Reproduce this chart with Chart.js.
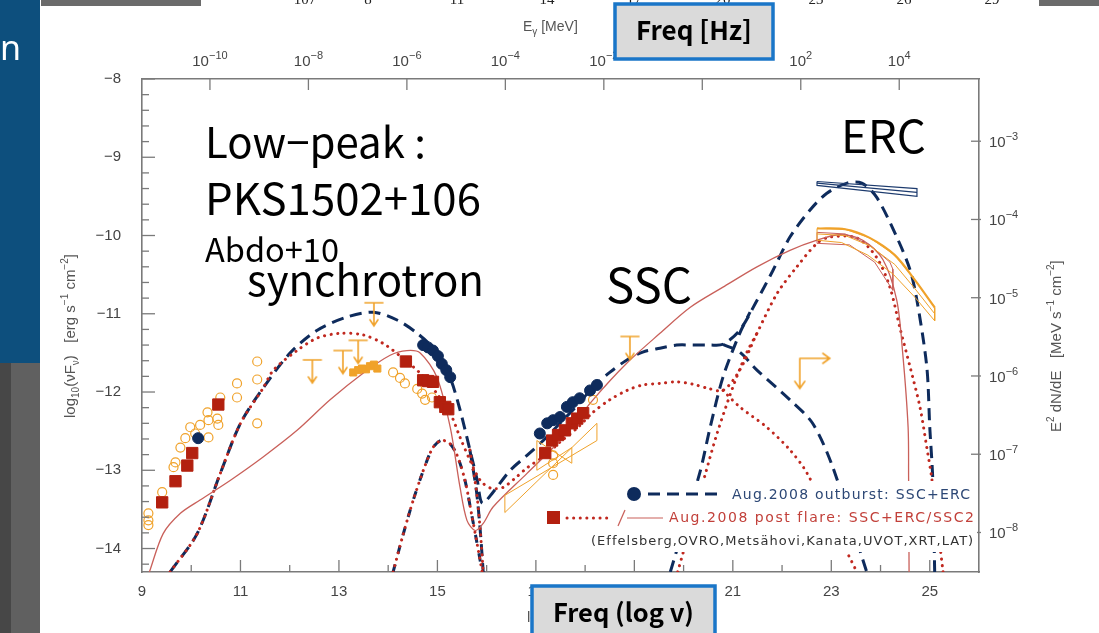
<!DOCTYPE html>
<html>
<head>
<meta charset="utf-8">
<script src="https://cdn.jsdelivr.net/npm/chart.js@4.4.1/dist/chart.umd.min.js"></script>
<style>
  html, body { margin: 0; padding: 0; background: #fff; overflow: hidden; }
  canvas { display: block; }
</style>
</head>
<body>
<canvas id="sed" width="1099" height="633"></canvas>
<script>
// ---- axes ----
const xTicksBottom = [9, 11, 13, 15, 17, 19, 21, 23, 25];   // log10 nu [Hz]
const yTicksLeft = [-14, -13, -12, -11, -10, -9, -8];        // log10 nuFnu [erg s-1 cm-2]
const topTickExp = [-10, -8, -6, -4, -2, 0, 2, 4];           // E_gamma [MeV]
const rightTickExp = [-8, -7, -6, -5, -4, -3];               // E2 dN/dE [MeV s-1 cm-2]
const hzToMeV = -20.38;   // log10(h) in MeV s
const ergToMeV = 5.795;   // log10(1 erg / 1 MeV)

// ---- model curves [log nu, log nuFnu] ----
const outburstTotal = [[9.57,-14.30],[10.12,-13.81],[10.59,-13.04],[11.00,-12.40],[11.46,-11.95],[12.01,-11.50],
  [12.56,-11.21],[13.17,-11.04],[13.70,-10.98],[14.18,-11.08],[14.59,-11.25],[14.99,-11.49],[15.26,-11.82],
  [15.46,-12.23],[15.66,-12.74],[15.81,-13.13],[15.91,-13.42],[16.13,-13.28],[16.48,-13.00],[16.82,-12.81],
  [17.15,-12.62],[17.49,-12.40],[17.84,-12.17],[18.16,-11.94],[18.50,-11.75],[18.85,-11.59],[19.17,-11.49],
  [19.52,-11.44],[19.86,-11.40],[20.19,-11.40],[20.54,-11.40],[20.80,-11.39],[21.14,-11.21],[21.49,-10.83],
  [21.82,-10.44],[22.16,-10.02],[22.56,-9.68],[22.91,-9.46],[23.32,-9.33],[23.62,-9.33],[23.92,-9.51],
  [24.33,-10.02],[24.60,-10.44],[24.74,-10.83],[24.94,-11.68],[25.00,-12.45],[25.06,-13.10],[25.10,-14.30]];
const outburstSyncTail = [[15.66,-12.74],[15.79,-13.25],[15.87,-13.77],[15.93,-14.30]];
const outburstSSC = [[20.80,-11.39],[21.14,-11.49],[21.49,-11.72],[22.16,-12.10],[22.62,-12.40],[23.03,-12.96],[23.72,-14.30]];
const outburstERC = [[19.73,-14.30],[20.33,-13.03],[20.54,-12.45],[20.80,-11.81],[21.14,-11.25],[21.35,-10.98]];
const diskBump = [[14.10,-14.30],[14.30,-13.83],[14.51,-13.38],[14.75,-12.94],[14.91,-12.71],[15.07,-12.62],
  [15.24,-12.65],[15.40,-12.81],[15.56,-13.13],[15.70,-13.58],[15.83,-14.02],[15.91,-14.30]];

const postTotal = [[9.57,-14.30],[10.12,-13.81],[10.59,-13.04],[11.00,-12.40],[11.46,-11.95],[11.67,-11.72],
  [12.15,-11.47],[12.56,-11.31],[13.02,-11.25],[13.49,-11.27],[13.90,-11.38],[14.30,-11.57],[14.65,-11.76],
  [14.99,-12.02],[15.26,-12.27],[15.46,-12.58],[15.66,-12.87],[15.87,-13.13],[16.09,-13.23],[16.33,-13.22],
  [16.58,-13.10],[16.82,-12.97],[17.19,-12.81],[17.49,-12.64],[17.84,-12.46],[18.16,-12.26],[18.50,-12.10],
  [18.85,-11.98],[19.17,-11.91],[19.52,-11.89],[19.86,-11.87],[20.19,-11.90],[20.48,-11.95],[20.80,-11.98],
  [21.14,-11.72],[21.49,-11.25],[21.90,-10.74],[22.30,-10.40],[22.71,-10.10],[22.97,-10.02],[23.52,-10.03],
  [23.92,-10.28],[24.19,-10.66],[24.39,-11.17],[24.60,-11.68],[24.80,-12.19],[24.94,-12.71],[25.04,-13.10],
  [25.27,-14.30]];
const postSSC = [[20.80,-11.98],[21.14,-12.19],[21.69,-12.45],[22.16,-12.74],[22.51,-13.04],[23.52,-14.30]];
const postERC = [[19.88,-14.30],[20.45,-13.03],[20.68,-12.53],[21.00,-11.94],[21.28,-11.50],[21.49,-11.25]];
const postSSC2 = [[9.15,-14.30],[9.43,-13.81],[9.78,-13.55],[10.18,-13.38],[10.79,-13.13],[11.46,-12.83],
  [12.15,-12.49],[12.82,-12.10],[13.49,-11.76],[14.04,-11.53],[14.38,-11.47],[14.65,-11.50],[14.99,-11.81],
  [15.26,-12.45],[15.46,-13.22],[15.60,-13.64],[15.77,-13.77],[15.93,-13.68],[16.13,-13.47],[16.82,-13.04],
  [17.49,-12.62],[18.16,-12.10],[18.85,-11.63],[19.52,-11.25],[20.13,-10.92],[20.80,-10.66],[21.49,-10.40],
  [22.16,-10.19],[22.71,-10.06],[23.17,-9.99],[23.64,-10.06],[24.05,-10.31],[24.33,-10.83],[24.45,-11.50],
  [24.56,-12.45],[24.57,-13.09],[24.58,-14.30]];

// ---- data points ----
const outburstPts = [[10.14,-12.59],[14.71,-11.40],[14.81,-11.43],[14.91,-11.47],[15.01,-11.54],[15.09,-11.64],
  [15.18,-11.72],[15.26,-11.81],[17.08,-12.53],[17.23,-12.40],[17.35,-12.36],[17.49,-12.32],[17.63,-12.19],
  [17.75,-12.13],[17.89,-12.08],[18.10,-11.98],[18.24,-11.91]];
const postFlarePts = [[9.41,-13.41],[9.68,-13.14],[9.92,-12.94],[10.02,-12.78],[10.55,-12.16],[14.36,-11.61],
  [14.71,-11.85],[14.81,-11.86],[14.91,-11.87],[15.05,-12.13],[15.16,-12.19],[15.22,-12.22],[17.19,-12.78],
  [17.33,-12.62],[17.45,-12.55],[17.59,-12.49],[17.73,-12.40],[17.84,-12.34],[17.96,-12.27]];
const archivalPts = [[9.13,-13.55],[9.13,-13.64],[9.13,-13.70],[9.41,-13.28],[9.64,-12.96],[9.68,-12.90],
  [9.78,-12.71],[9.88,-12.59],[9.98,-12.45],[10.08,-12.53],[10.18,-12.42],[10.33,-12.26],[10.35,-12.36],
  [10.35,-12.58],[10.53,-12.34],[10.55,-12.42],[10.59,-12.07],[10.93,-11.89],[10.93,-12.07],[11.34,-11.61],
  [11.34,-11.84],[11.34,-12.40],[14.10,-11.75],[14.24,-11.82],[14.34,-11.89],[14.59,-11.96],[14.69,-12.02],
  [14.75,-12.10],[14.89,-12.07],[17.35,-12.81],[17.35,-12.91],[17.35,-13.06],[18.16,-12.10]];
const kanataPts = [[13.29,-11.75],[13.39,-11.72],[13.47,-11.70],[13.55,-11.71],[13.63,-11.67],[13.71,-11.65],[13.78,-11.70]];
const upperLimits = [[12.46,-11.59],[13.08,-11.47],[13.39,-11.34],[13.71,-10.86],[18.91,-11.29]];
const cornerLimit = [[22.36,-11.57]];

// ---- butterflies ----
const xrtBow1 = [[16.37,-13.32],[18.24,-12.62],[18.24,-12.40],[16.37,-13.54],[16.37,-13.32]];
const xrtBow2 = [[17.02,-12.62],[17.73,-12.91],[17.73,-12.71],[17.02,-13.00],[17.02,-12.62]];
const latOutburst = [[22.71,-9.31],[24.74,-9.40],[24.74,-9.50],[22.71,-9.36],[22.71,-9.31]];
const latOutburstMid = [[22.71,-9.33],[24.74,-9.45]];
const latArchive = [[22.71,-9.91],[23.28,-9.92],[23.78,-10.03],[24.29,-10.25],[24.70,-10.57],[25.10,-10.92],
  [25.10,-11.09],[24.70,-10.79],[24.25,-10.49],[23.74,-10.25],[23.21,-10.09],[22.71,-10.06],[22.71,-9.91]];
const latArchiveMid = [[22.71,-9.98],[23.28,-10.00],[23.78,-10.13],[24.29,-10.37],[24.70,-10.68],[25.10,-11.00]];
const latPost = [[22.71,-9.96],[23.28,-9.98],[23.78,-10.12],[24.19,-10.34],[24.25,-10.43],[24.25,-10.70],
  [23.88,-10.34],[23.37,-10.12],[22.71,-10.10],[22.71,-9.96]];

const NAVY = '#0e2b5c', RED = '#c0281f', PINK = '#c9605a', ORANGE = '#f0a22a', AXIS = '#7a7a7a';
const xy = a => a.map(([x, y]) => ({ x, y }));

function makeLimit(corner) {
  const c = document.createElement('canvas');
  c.width = corner ? 84 : 26; c.height = corner ? 84 : 64;
  const g = c.getContext('2d');
  const cx = c.width / 2, cy = c.height / 2;
  g.strokeStyle = ORANGE; g.lineWidth = 1.6; g.lineCap = 'round';
  g.beginPath();
  if (corner) {
    g.moveTo(cx, cy); g.lineTo(cx, cy + 30);
    g.moveTo(cx - 5, cy + 23); g.lineTo(cx, cy + 30); g.lineTo(cx + 5, cy + 23);
    g.moveTo(cx, cy); g.lineTo(cx + 30, cy);
    g.moveTo(cx + 23, cy - 5); g.lineTo(cx + 30, cy); g.lineTo(cx + 23, cy + 5);
  } else {
    g.moveTo(cx - 9, cy); g.lineTo(cx + 9, cy);
    g.moveTo(cx, cy); g.lineTo(cx, cy + 23);
    g.moveTo(cx - 4, cy + 17); g.lineTo(cx, cy + 23); g.lineTo(cx + 4, cy + 17);
  }
  g.stroke();
  return c;
}

function curve(data, color, width, dash) {
  return { data: xy(data), showLine: true, pointRadius: 0, borderColor: color, borderWidth: width,
    borderDash: dash || [], borderCapStyle: dash && dash[0] < 1 ? 'round' : 'butt', tension: 0.3, fill: false };
}
function poly(data, color, width) {
  return { data: xy(data), showLine: true, pointRadius: 0, borderColor: color, borderWidth: width || 1, tension: 0 };
}
const DASH = [12, 7], DOT = [0.1, 6.5];

const datasets = [
  { data: xy(outburstPts), pointStyle: 'circle', pointRadius: 5.5, backgroundColor: NAVY, borderColor: NAVY },
  { data: xy(postFlarePts), pointStyle: 'rect', pointRadius: 8, backgroundColor: '#b3200f', borderColor: '#b3200f' },
  { data: xy(kanataPts), pointStyle: 'rect', pointRadius: 5, backgroundColor: ORANGE, borderColor: ORANGE },
  { data: xy(archivalPts), pointStyle: 'circle', pointRadius: 4.5, backgroundColor: 'rgba(0,0,0,0)', borderColor: ORANGE, borderWidth: 1.2 },
  { data: xy(upperLimits), pointStyle: makeLimit(false), pointRadius: 10 },
  { data: xy(cornerLimit), pointStyle: makeLimit(true), pointRadius: 10 },
  poly(latOutburst, '#1d3b6e', 1.2), poly(latOutburstMid, '#1d3b6e', 1.2),
  poly(latArchive, ORANGE, 1), poly(latArchiveMid, ORANGE, 1),
  { ...poly(latArchive.slice(0, 6), ORANGE, 2.2), tension: 0.3 },
  poly(latPost, PINK, 1),
  poly(xrtBow1, ORANGE, 1), poly(xrtBow2, ORANGE, 1),
  curve(postSSC2, PINK, 1.3),
  curve(postTotal, RED, 3, DOT), curve(outburstSyncTail, RED, 3, DOT),
  curve(postSSC, RED, 3, DOT), curve(postERC, RED, 3, DOT), curve(diskBump, RED, 3, DOT),
  curve(outburstTotal, NAVY, 3, DASH), curve(outburstSyncTail, NAVY, 3, DASH),
  curve(outburstSSC, NAVY, 3, DASH), curve(outburstERC, NAVY, 3, DASH), curve(diskBump, NAVY, 3, [8, 11])
];

const SANS = '"Liberation Sans", Arial, sans-serif';
const tickFont = { family: SANS, size: 15 };
const fixedTicks = vals => scale => { scale.ticks = vals.map(v => ({ value: v })); };

// rich text: segments [text, size, dy]
function rich(ctx, segs, x, y, family, color, align) {
  ctx.fillStyle = color; ctx.textBaseline = 'alphabetic'; ctx.textAlign = 'left';
  let total = 0;
  for (const [t, size] of segs) { ctx.font = `${size}px ${family}`; total += ctx.measureText(t).width; }
  let cx = align === 'center' ? x - total / 2 : x;
  for (const [t, size, dy] of segs) {
    ctx.font = `${size}px ${family}`;
    ctx.fillText(t, cx, y + dy);
    cx += ctx.measureText(t).width;
  }
  return total;
}
const pow10 = e => [['10', 15, 0], [String(e).replace('-', '−'), 11, -7]];
function fitText(ctx, text, x, y, width, font, color, weight) {
  ctx.font = `${weight || ''} 100px ${font}`;
  const size = 100 * width / ctx.measureText(text).width;
  ctx.font = `${weight || ''} ${size}px ${font}`;
  ctx.fillStyle = color; ctx.textAlign = 'left'; ctx.textBaseline = 'alphabetic';
  ctx.fillText(text, x, y);
}
function spaced(ctx, text, x, y, width, font, color) {
  ctx.font = font; ctx.letterSpacing = '0px';
  const w = ctx.measureText(text).width;
  ctx.letterSpacing = ((width - w) / (text.length - 1)) + 'px';
  ctx.fillStyle = color; ctx.textAlign = 'left'; ctx.textBaseline = 'alphabetic';
  ctx.fillText(text, x, y);
  ctx.letterSpacing = '0px';
}

const backdrop = {
  id: 'backdrop',
  beforeDraw(chart) {
    const ctx = chart.ctx;
    ctx.save();
    ctx.fillStyle = '#fff'; ctx.fillRect(0, 0, chart.width, chart.height);
    ctx.fillStyle = '#0d4f7d'; ctx.fillRect(0, 0, 40, 363);
    ctx.fillStyle = '#606060'; ctx.fillRect(0, 363, 40, 270);
    ctx.fillStyle = '#474747'; ctx.fillRect(0, 363, 11, 270);
    ctx.fillStyle = '#6b6b6b'; ctx.fillRect(41, 0, 160, 6); ctx.fillRect(1039, 0, 60, 6);
    ctx.fillStyle = '#fff'; ctx.font = '34px "Noto Sans", sans-serif'; ctx.fillText('n', 0, 60);
    // cut-off labels of the slide behind
    ctx.fillStyle = '#222'; ctx.font = '15px "Liberation Serif", serif'; ctx.textAlign = 'center';
    [['107', 305], ['8', 368], ['11', 457], ['14', 547], ['17', 634], ['20', 723], ['23', 816], ['26', 904], ['29', 992]]
      .forEach(([t, x]) => ctx.fillText(t, x, 4));
    ctx.restore();
  }
};

const overlay = {
  id: 'overlay',
  afterDraw(chart) {
    const { ctx, chartArea: a, scales } = chart;
    ctx.save();
    // inward ticks
    ctx.strokeStyle = AXIS; ctx.lineWidth = 1.3;
    const seg = (x1, y1, x2, y2) => { ctx.beginPath(); ctx.moveTo(x1, y1); ctx.lineTo(x2, y2); ctx.stroke(); };
    for (let i = -71; i <= -40; i++) {
      const y = scales.y.getPixelForValue(i / 5);
      seg(a.left, y, a.left + (i % 5 === 0 ? 13 : 7), y);
    }
    for (let v = 10; v <= 25; v++) {
      const x = scales.x.getPixelForValue(v);
      seg(x, a.bottom, x, a.bottom - (v % 2 ? 12 : 7));
    }
    topTickExp.forEach(v => {
      const x = scales.xTop.getPixelForValue(v);
      seg(x, a.top, x, a.top + 11);
      if (x < 640 || x > 760) rich(ctx, pow10(v), x, 66, SANS, '#444', 'center');
    });
    rightTickExp.forEach(v => {
      const y = scales.yRight.getPixelForValue(v);
      seg(a.right - 8, y, a.right + 2, y);
      rich(ctx, pow10(v), a.right + 10, y + 6, SANS, '#444');
    });

    // axis titles
    rich(ctx, [['E', 14, 0], ['γ', 10, 4], [' [MeV]', 14, 0]], 523, 31, SANS, '#555');
    ctx.save(); ctx.translate(75, 418); ctx.rotate(-Math.PI / 2);
    rich(ctx, [['log', 15, 0], ['10', 10, 4], ['(νF', 15, 0], ['ν', 10, 4], [')   [erg s', 15, 0], ['−1', 10, -7],
      [' cm', 15, 0], ['−2', 10, -7], [']', 15, 0]], 0, 0, SANS, '#555');
    ctx.restore();
    ctx.save(); ctx.translate(1061, 432); ctx.rotate(-Math.PI / 2);
    rich(ctx, [['E', 15, 0], ['2', 10, -7], [' dN/dE   [MeV s', 15, 0], ['−1', 10, -7], [' cm', 15, 0], ['−2', 10, -7], [']', 15, 0]],
      0, 0, SANS, '#555');
    ctx.restore();
    rich(ctx, [['log ν', 15, 0]], 527, 622, SANS, '#555');

    // annotations
    const jp = '"Noto Sans CJK JP", "Noto Sans", sans-serif';
    fitText(ctx, 'Low−peak :', 205, 158, 221, jp, '#000');
    fitText(ctx, 'PKS1502+106', 205, 215, 276, jp, '#000');
    fitText(ctx, 'Abdo+10', 205, 262, 134, jp, '#000');
    fitText(ctx, 'synchrotron', 247, 296, 237, jp, '#000');
    fitText(ctx, 'SSC', 606, 303, 86, jp, '#000');
    fitText(ctx, 'ERC', 841, 153, 85, jp, '#000');

    // legend
    ctx.fillStyle = '#fff'; ctx.fillRect(541, 481, 436, 71);
    ctx.fillStyle = NAVY; ctx.beginPath(); ctx.arc(634, 494, 7, 0, Math.PI * 2); ctx.fill();
    ctx.strokeStyle = NAVY; ctx.lineWidth = 3; ctx.setLineDash([12, 7]); seg(648, 494, 724, 494);
    ctx.fillStyle = '#b3200f'; ctx.fillRect(547, 511, 13, 13);
    ctx.strokeStyle = RED; ctx.lineCap = 'round'; ctx.setLineDash([0.1, 6.5]); seg(567, 518, 612, 518);
    ctx.setLineDash([]); ctx.lineCap = 'butt'; ctx.lineWidth = 1.2; ctx.strokeStyle = PINK;
    seg(618, 526, 625, 510); seg(627, 518, 663, 518);
    const lf = '14px "DejaVu Sans", sans-serif';
    spaced(ctx, 'Aug.2008 outburst: SSC+ERC', 732, 499, 238, lf, '#2c4775');
    spaced(ctx, 'Aug.2008 post flare: SSC+ERC/SSC2', 669, 522, 305, lf, '#c2403a');
    spaced(ctx, '(Effelsberg,OVRO,Metsähovi,Kanata,UVOT,XRT,LAT)', 591, 545, 382, '13px "DejaVu Sans", sans-serif', '#333');

    // slide boxes
    const box = (x, y, w, h, text, tw) => {
      ctx.fillStyle = '#dadada'; ctx.fillRect(x, y, w, h);
      ctx.strokeStyle = '#1a76c8'; ctx.lineWidth = 3.5; ctx.strokeRect(x, y, w, h);
      fitText(ctx, text, x + (w - tw) / 2, y + 36, tw, jp, '#000', 'bold');
    };
    box(615, 4, 158, 55, 'Freq [Hz]', 116);
    box(532, 586, 183, 60, 'Freq (log v)', 141);
    ctx.restore();
  }
};

new Chart(document.getElementById('sed'), {
  type: 'scatter',
  data: { datasets },
  options: {
    responsive: false,
    animation: false,
    events: [],
    layout: { padding: { left: 40, right: 0, top: 0, bottom: 0 } },
    plugins: { legend: { display: false }, tooltip: { enabled: false } },
    scales: {
      x: {
        type: 'linear', position: 'bottom', min: 9, max: 26,
        afterBuildTicks: fixedTicks(xTicksBottom),
        afterFit: s => { s.height = 61; },
        grid: { display: false }, border: { display: true, color: AXIS, width: 1.6 },
        ticks: { font: tickFont, color: '#444', padding: 3, maxRotation: 0, autoSkip: false }
      },
      xTop: {
        type: 'linear', position: 'top', min: 9 + hzToMeV, max: 26 + hzToMeV,
        afterBuildTicks: fixedTicks(topTickExp),
        afterFit: s => { s.height = 79; },
        grid: { display: false }, border: { display: true, color: AXIS, width: 1.6 },
        ticks: { display: false }
      },
      y: {
        type: 'linear', position: 'left', min: -14.3, max: -8,
        afterBuildTicks: fixedTicks(yTicksLeft),
        afterFit: s => { s.width = 102; },
        grid: { display: false }, border: { display: true, color: AXIS, width: 1.6 },
        ticks: { font: tickFont, color: '#444', padding: 13, callback: v => String(v).replace('-', '−') }
      },
      yRight: {
        type: 'linear', position: 'right', min: -14.3 + ergToMeV, max: -8 + ergToMeV,
        afterBuildTicks: fixedTicks(rightTickExp),
        afterFit: s => { s.width = 120; },
        grid: { display: false }, border: { display: true, color: AXIS, width: 1.6 },
        ticks: { display: false }
      }
    }
  },
  plugins: [backdrop, overlay]
});
</script>
</body>
</html>
